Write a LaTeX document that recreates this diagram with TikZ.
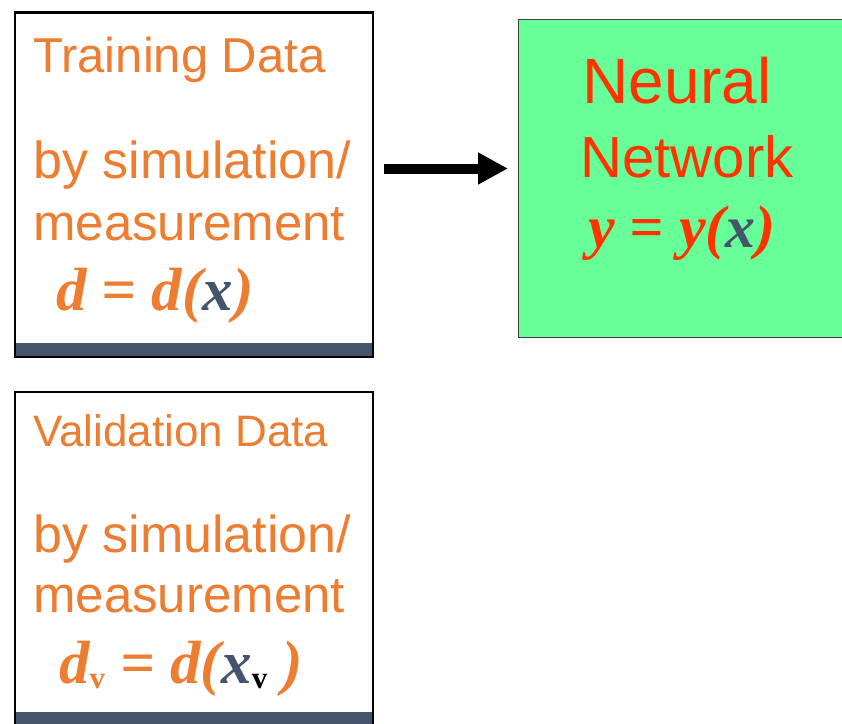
\documentclass[tikz,border=0pt]{standalone}
\usepackage{fontspec}
\setmainfont{Liberation Sans}
\newfontfamily\tnr{Liberation Serif}
\usepackage{tikz}
\usetikzlibrary{arrows.meta}
\definecolor{dataorange}{RGB}{237,125,49}
\definecolor{slate}{RGB}{68,84,106}
\definecolor{netred}{RGB}{255,51,0}
\definecolor{netgreen}{RGB}{104,255,153}

\begin{document}
\begin{tikzpicture}[x=1pt,y=-1pt,
  databox/.style={draw=black,line width=2.5pt,fill=white,anchor=north west,
    minimum width=358pt,inner sep=0pt,
    path picture={\fill[slate] ([yshift=14pt]path picture bounding box.south west)
      rectangle (path picture bounding box.south east);}},
  netbox/.style={draw=black!75,line width=1pt,fill=netgreen,anchor=north west,
    minimum width=340pt,minimum height=318pt,inner sep=0pt},
  txt/.style={anchor=base west,inner sep=0pt,text=dataorange},
  nettxt/.style={anchor=base,inner sep=0pt,text=netred},
  bigarrow/.style={line width=10pt,-{Triangle[length=30pt,width=30pt]},
    shorten <=10pt,shorten >=10pt}]
\useasboundingbox (0,0) rectangle (842,723);

% boxes
\node [databox,minimum height=344.5pt] (train) at (13.5,11) {};
\node [databox,minimum height=334pt] (valid) at (13.5,390.5) {};
\node [netbox] (net) at (518,19) {};

% training data
\node [txt] (trtitle) at (33,72) {\fontsize{49}{49}\selectfont Training Data};
\node [txt] (trsim) at (33,178) {\fontsize{52}{52}\selectfont by simulation/};
\node [txt] (trmeas) at (33,240) {\fontsize{51}{51}\selectfont measurement};
\node [txt] (trform) at (56,310)
  {\fontsize{61}{61}\selectfont\tnr\bfseries\itshape d = d({\color{slate}x})};

% validation data
\node [txt] (vatitle) at (33,446) {\fontsize{44}{44}\selectfont Validation Data};
\node [txt] (vasim) at (33,552) {\fontsize{52}{52}\selectfont by simulation/};
\node [txt] (vameas) at (33,612) {\fontsize{51}{51}\selectfont measurement};
\node [txt] (vaform) at (59,683)
  {\fontsize{61}{61}\selectfont\tnr\bfseries\itshape
   d\raisebox{-5pt}{\fontsize{31}{31}\selectfont\upshape v} = d({\color{slate}x}\raisebox{-5pt}{\fontsize{31}{31}\selectfont\upshape\color{black}v} )};

% neural network
\node [nettxt] (nn1) at (677,103) {\fontsize{64}{64}\selectfont Neural};
\node [nettxt] (nn2) at (687,177) {\fontsize{58}{58}\selectfont Network};
\node [nettxt] (nnform) at (682,247)
  {\fontsize{60}{60}\selectfont\tnr\bfseries\itshape y = y({\color{slate}x})};

\draw [bigarrow] ([yshift=16pt]train.east) -- ([yshift=16pt]train.east -| net.west);
\end{tikzpicture}
\end{document}
